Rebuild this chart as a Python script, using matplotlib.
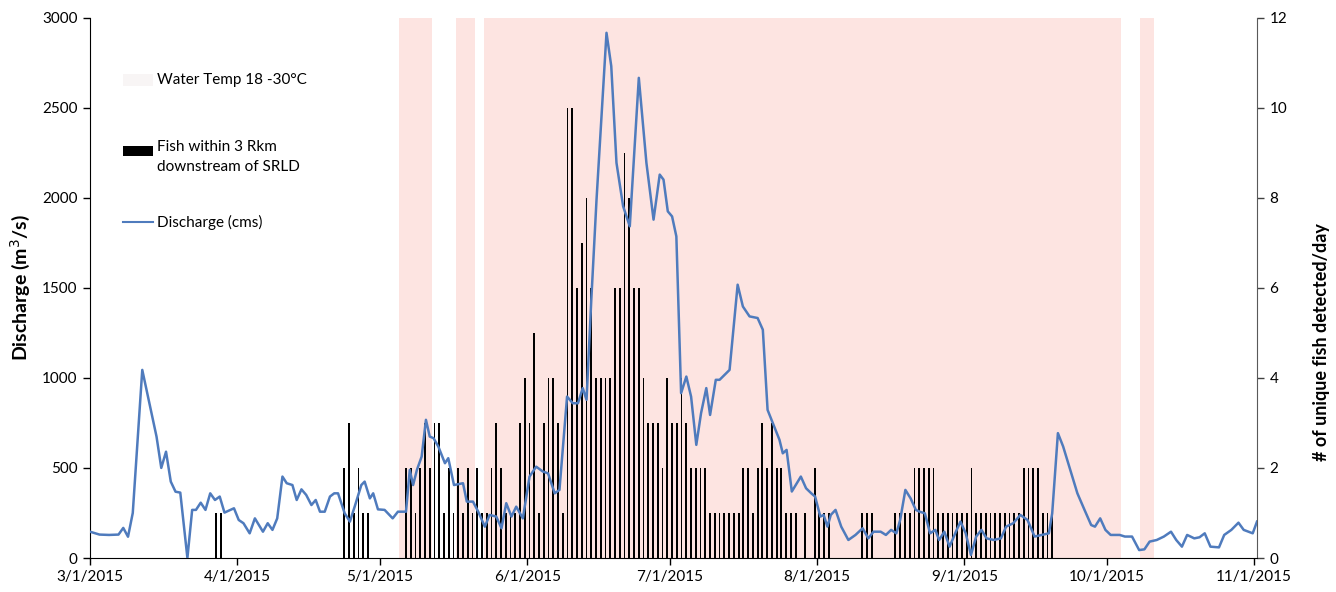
import datetime as dt
import matplotlib
matplotlib.use("Agg")
import matplotlib.pyplot as plt
import matplotlib.dates as mdates
from matplotlib.patches import Rectangle
from matplotlib.lines import Line2D

plt.rcParams['font.family'] = ['Lato', 'DejaVu Sans']

# ---------------- data ----------------
season_start = dt.datetime(2015, 3, 1)

# Discharge (cms): position in days after 3/1/2015, value
discharge_days = [0, 2, 4, 6, 7, 8, 9, 11, 14, 15, 16, 17, 18, 19, 20.5, 21.5, 22.3, 23.3, 24.3, 25.3, 26.3, 27.3,
                  28.3, 30.3, 31.3, 32.3, 33.6, 34.7, 36.4, 37.4, 38.4, 39.4, 40.5, 41.4, 42.6, 43.5, 44.5, 45.5,
                  46.6, 47.5, 48.4, 49.4, 50.5, 51.4, 52.2, 53.6, 54.7, 55.7, 57.1, 57.8, 58.9, 59.6, 60.6, 62.0,
                  63.7, 64.8, 66.5, 67.3, 68.0, 68.8, 69.8, 70.7, 71.5, 72.3, 73.3, 74.7, 75.4, 76.6, 78.5, 79.3,
                  80.6, 81.7, 83.1, 84.1, 85.5, 86.6, 87.6, 88.7, 89.7, 91.1, 92.5, 93.9, 95.3, 96.4, 97.8, 98.8,
                  100.4, 101.6, 102.7, 103.7, 104.5, 105.5, 106.6, 108.7, 109.7, 110.8, 112.2, 113.6, 115.5, 117.1,
                  118.6, 119.9, 120.7, 121.6, 122.5, 123.4, 124.4, 125.5, 126.5, 127.6, 128.6, 129.7, 130.5, 131.7,
                  132.5, 134.6, 136.3, 137.4, 138.8, 140.5, 141.6, 142.6, 145.1, 145.8, 146.6, 147.7, 149.6, 150.7,
                  151.8, 152.6, 153.7, 154.4, 155.2, 155.9, 156.9, 158.1, 159.6, 161.1, 162.6, 163.8, 164.9, 166.4,
                  167.5, 168.6, 169.7, 170.5, 171.6, 172.7, 173.8, 174.6, 175.7, 176.8, 177.9, 178.7, 179.8, 180.9,
                  182.4, 183.2, 184.3, 185.4, 186.5, 187.6, 188.7, 190.2, 191.7, 192.8, 194.3, 195.8, 197.3, 198.8,
                  200.3, 201.8, 202.5, 203.7, 204.8, 206.3, 207.8, 209.3, 210.7, 211.5, 212.6, 213.7, 214.8, 216.7,
                  217.8, 219.3, 220.8, 221.9, 223.0, 224.5, 226.0, 227.5, 228.6, 229.8, 230.9, 232.4, 233.5, 234.6,
                  235.8, 237.6, 238.7, 240.2, 241.7, 242.8, 244.7, 245.6]
discharge_cms = [146, 130, 128, 130, 167, 118, 250, 1044, 674, 500, 590, 424, 368, 363, 0, 267, 267, 307, 267, 359,
                 322, 341, 252, 276, 211, 193, 137, 220, 146, 193, 156, 220, 452, 415, 405, 322, 381, 350,
                 294, 322, 257, 257, 341, 359, 359, 248, 202, 285, 405, 424, 331, 359, 270, 267,
                 220, 257, 257, 489, 405, 489, 563, 767, 674, 665, 619, 526, 554, 405, 415, 313,
                 313, 257, 174, 239, 230, 165, 304, 230, 285, 220, 452, 507, 480, 470, 359, 378,
                 896, 859, 859, 943, 878, 1433, 1989, 2915, 2730, 2193, 1952, 1841, 2665, 2193,
                 1878, 2128, 2100, 1924, 1896, 1785, 915, 1007, 896, 628, 804, 943, 794, 989,
                 989, 1044, 1517, 1396, 1341, 1332, 1267, 822, 656, 581, 600, 369, 452, 387,
                 359, 341, 230, 239, 174, 239, 267, 174, 100, 128, 165, 109, 146, 146,
                 128, 156, 137, 211, 378, 331, 267, 257, 248, 137, 156, 100, 146, 63,
                 156, 202, 137, 17, 119, 156, 109, 100, 109, 174, 193, 239, 211, 119,
                 128, 137, 248, 693, 619, 489, 359, 267, 183, 174, 220, 156, 128, 128,
                 119, 119, 44, 48, 91, 100, 119, 146, 100, 63, 128, 109, 115, 137,
                 63, 59, 128, 156, 196, 156, 137, 202]

# Unique fish detected per day within 3 Rkm downstream of SRLD (day after 3/1/2015, count)
fish_days = [26, 27, 53, 54, 55, 56, 57, 58,
             66, 67, 68, 69, 70, 71, 72, 73, 74, 75, 76, 77, 78, 79, 80, 81, 82, 83, 84, 85, 86, 87, 88, 89,
             90, 91, 92, 93, 94, 95, 96, 97, 98, 99, 100, 101, 102, 103, 104, 105, 106, 107, 108, 109,
             110, 111, 112, 113, 114, 115, 116, 117, 118, 119, 120, 121, 122, 123, 124, 125, 126, 127, 128, 129,
             130, 131, 132, 133, 134, 135, 136, 137, 138, 139, 140, 141, 142, 143, 144, 145, 146, 147, 148, 150,
             152, 153, 154, 155, 162, 163, 164, 169, 170, 171, 172, 173, 174, 175, 176, 177,
             178, 179, 180, 181, 182, 183, 184, 185, 186, 187, 188, 189, 190, 191, 192, 193, 194, 195,
             196, 197, 198, 199, 200, 201, 202]
fish_counts = [1, 1, 2, 3, 1, 2, 1, 1,
               2, 2, 1, 2, 3, 2, 3, 3, 1, 2, 1, 2, 1, 2, 1, 2, 1, 1, 2, 3, 2, 1, 1, 1,
               3, 4, 3, 5, 1, 3, 4, 4, 3, 1, 10, 10, 6, 7, 8, 6, 4, 4, 4, 4,
               6, 6, 9, 8, 6, 6, 4, 3, 3, 3, 2, 4, 3, 3, 4, 3, 2, 2, 2, 2,
               1, 1, 1, 1, 1, 1, 1, 2, 2, 1, 2, 3, 2, 3, 2, 2, 1, 1, 1, 1,
               2, 1, 1, 1, 1, 1, 1, 1, 1, 1, 1, 2, 2, 2, 2, 2,
               1, 1, 1, 1, 1, 1, 1, 2, 1, 1, 1, 1, 1, 1, 1, 1, 1, 1,
               2, 2, 2, 2, 1, 1, 1]

# Periods with water temperature 18-30 C (first day, last day after 3/1/2015)
temp_start_days = [65, 77, 83, 221]
temp_end_days = [71, 80, 216, 223]

x_tick_labels = ['3/1/2015', '4/1/2015', '5/1/2015', '6/1/2015', '7/1/2015',
                 '8/1/2015', '9/1/2015', '10/1/2015', '11/1/2015']

# ---------------- plot ----------------
W, H = 1336, 592
fig = plt.figure(figsize=(W / 100, H / 100), dpi=100)
ax = fig.add_axes([90 / W, 1 - 558 / H, (1257 - 90) / W, (558 - 17.5) / H])
ax2 = ax.twinx()

def to_num(days):
    return [mdates.date2num(season_start + dt.timedelta(days=float(d))) for d in days]

pink = '#fde4e1'
for s, e in zip(temp_start_days, temp_end_days):
    ax2.axvspan(to_num([s])[0], to_num([e + 1])[0], color=pink, lw=0, zorder=0)

ax2.bar(to_num([d + 0.5 for d in fish_days]), fish_counts, width=0.38, color='black', zorder=2,
        align='center')
ax2.set_ylim(0, 12)
ax2.set_yticks(range(0, 13, 2))

# discharge line on top of bars
ax.set_zorder(ax2.get_zorder() + 1)
ax.patch.set_visible(False)
ax.plot(to_num(discharge_days), discharge_cms, color='#4f7bbd', lw=1.8, zorder=3)
ax.set_ylim(0, 3000)
ax.set_yticks(range(0, 3001, 500))

x0 = mdates.date2num(season_start)
ax.set_xlim(x0, x0 + 245.6)
ticks = [mdates.date2num(dt.datetime(2015, m, 1)) for m in range(3, 12)]
ax.set_xticks(ticks)
ax.set_xticklabels(x_tick_labels)

for a in (ax, ax2):
    a.spines['top'].set_visible(False)
    a.tick_params(labelsize=11, length=5, width=1, direction='out', pad=4)
ax.spines['left'].set_color('black')
ax.spines['bottom'].set_color('black')
ax.spines['right'].set_visible(False)
ax2.spines['left'].set_visible(False)
ax2.spines['bottom'].set_visible(False)
ax2.spines['right'].set_color('#595959')
ax2.tick_params(axis='y', colors='#404040', labelcolor='black')

ax.set_ylabel('Discharge (m$^3$/s)', fontsize=14, fontweight='bold', va='center')
ax.yaxis.set_label_coords((20 - 90) / 1167, 0.5)
ax2.set_ylabel('# of unique fish detected/day', fontsize=13, fontweight='bold', va='center', rotation=90)
ax2.yaxis.set_label_coords((1321 - 90) / 1167, 0.4)

# legend (manual)
def axfrac(px, py):
    return (px - 90) / (1257 - 90), (558 - py) / (558 - 17.5)

tx, _ = axfrac(157, 0)
hx0, _ = axfrac(123, 0)
hx1, _ = axfrac(153, 0)
_, y1 = axfrac(0, 80)
_, y2 = axfrac(0, 151)
_, y3 = axfrac(0, 222)
_, hh = axfrac(0, 558 - 12)
_, hb = axfrac(0, 558 - 10)
ax.add_patch(Rectangle((hx0, y1 - hh / 2), hx1 - hx0, hh, transform=ax.transAxes,
                       facecolor='#f8f5f5', edgecolor='none', zorder=5))
ax.text(tx, y1, 'Water Temp 18 -30°C', transform=ax.transAxes, va='center', ha='left', fontsize=11)
ax.add_patch(Rectangle((hx0, y2 - hb / 2), hx1 - hx0, hb, transform=ax.transAxes,
                       facecolor='black', edgecolor='none', zorder=5))
ax.text(tx, y2 + 0.02, 'Fish within 3 Rkm\ndownstream of SRLD', transform=ax.transAxes,
        va='top', ha='left', fontsize=11, linespacing=1.5)
ax.add_line(Line2D([hx0, hx1], [y3, y3], transform=ax.transAxes, color='#4f7bbd', lw=1.5))
ax.text(tx, y3, 'Discharge (cms)', transform=ax.transAxes, va='center', ha='left', fontsize=11)

fig.savefig('out.png', dpi=100)
